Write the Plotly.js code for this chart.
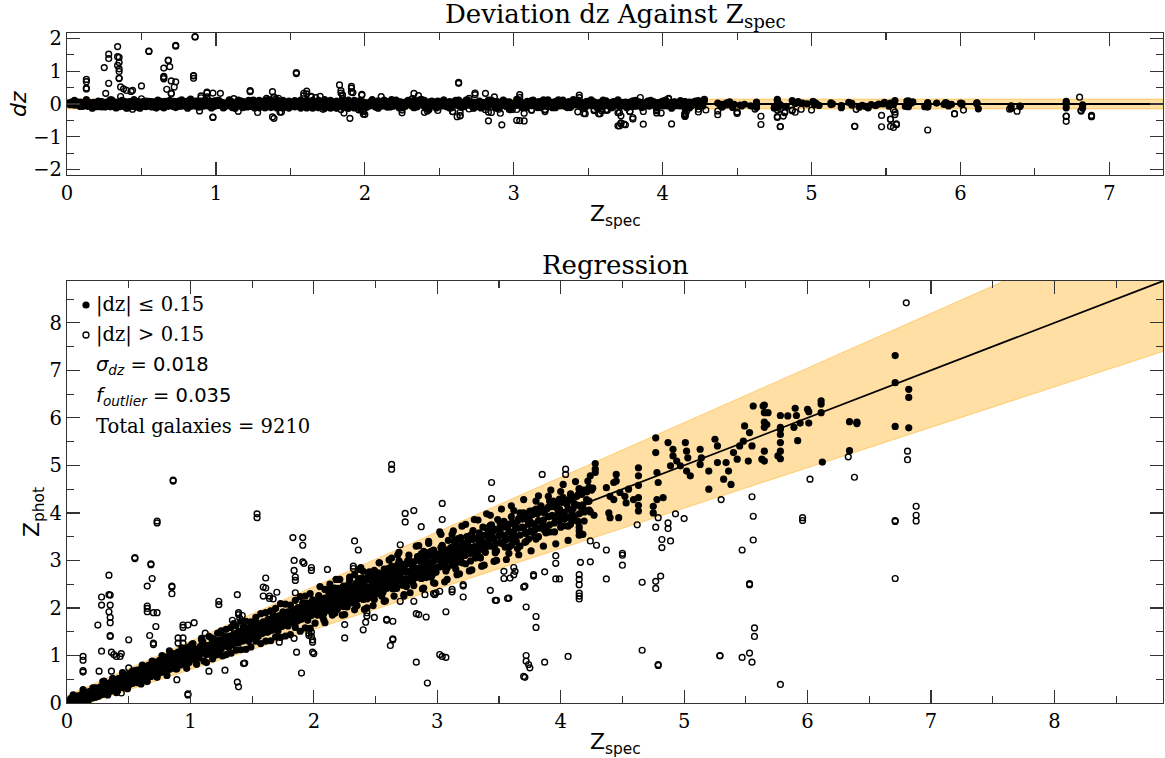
<!DOCTYPE html>
<html>
<head>
<meta charset="utf-8">
<script src="https://cdn.plot.ly/plotly-3.0.1.min.js"></script>
<style>html,body{margin:0;padding:0;background:#fff}#chart{width:1165px;height:758px}</style>
</head>
<body>
<div id="chart"></div>
<script>
// ---------------- DATA ----------------
// inliers, z_spec 0 - 1
const inZsA = [0.01,0.02,0.03,0.04,0.05,0.06,0.07,0.08,0.09,0.10,0.11,0.12,0.13,0.14,0.15,0.16,0.17,0.18,0.19,0.20,0.21,0.22,0.23,0.24,0.25,0.26,0.27,0.28,0.29,0.30,0.31,0.32,0.33,0.34,0.35,0.36,0.37,0.38,0.39,0.40,0.41,0.42,0.43,0.44,0.45,0.46,0.47,0.48,0.49,0.50,0.51,0.52,0.53,0.54,0.55,0.56,0.57,0.58,0.59,0.60,0.61,0.62,0.63,0.64,0.65,0.66,0.67,0.68,0.69,0.70,0.71,0.72,0.73,0.74,0.75,0.76,0.77,0.78,0.79,0.80,0.81,0.82,0.83,0.84,0.85,0.86,0.87,0.88,0.89,0.90,0.91,0.92,0.93,0.94,0.95,0.96,0.97,0.98,0.99,1.00,0.83,0.60,0.40,0.30,0.88,0.72,0.55,0.46,
  0.205,0.225,0.245,0.265,0.285,0.305,0.325,0.345,0.365,0.385,0.405,0.425,0.445,0.465,0.485,0.505,0.525,0.545,0.565,0.585,0.605,0.625,0.645,0.665,0.685,0.705,0.725,0.745,0.765,0.785,0.805,0.825,0.845,0.865,0.885,0.905,0.925,0.945,0.965,0.985];
const inZpA = [0.04,0.00,0.09,0.05,0.01,0.12,0.07,0.03,0.15,0.09,0.04,0.18,0.12,0.06,0.21,0.14,0.08,0.24,0.17,0.10,0.28,0.19,0.12,0.31,0.22,0.15,0.34,0.25,0.18,0.38,0.28,0.21,0.41,0.31,0.24,0.45,0.34,0.27,0.49,0.37,0.30,0.52,0.40,0.33,0.56,0.43,0.35,0.59,0.46,0.38,0.62,0.50,0.41,0.65,0.53,0.44,0.69,0.56,0.47,0.72,0.60,0.50,0.76,0.63,0.53,0.79,0.66,0.56,0.83,0.69,0.59,0.86,0.72,0.62,0.90,0.75,0.65,0.93,0.78,0.68,0.97,0.81,0.71,1.00,0.84,0.74,1.04,0.87,0.77,1.07,0.90,0.80,1.11,0.93,0.83,1.14,0.96,0.86,1.18,0.99,1.10,0.40,0.22,0.46,0.72,0.60,0.68,0.33,
  0.23,0.20,0.28,0.24,0.31,0.27,0.36,0.31,0.40,0.35,0.44,0.39,0.49,0.42,0.53,0.46,0.58,0.50,0.62,0.54,0.66,0.57,0.71,0.61,0.75,0.65,0.79,0.69,0.83,0.72,0.87,0.76,0.92,0.80,0.96,0.84,1.00,0.88,1.05,0.92];
// inliers, z_spec 1 - 2
const inZsB = [1.01,1.02,1.04,1.05,1.06,1.08,1.09,1.10,1.12,1.13,1.14,1.16,1.17,1.19,1.20,1.21,1.23,1.24,1.25,1.27,1.28,1.30,1.31,1.32,1.34,1.35,1.36,1.38,1.39,1.40,1.42,1.43,1.44,1.46,1.47,1.48,1.50,1.51,1.52,1.54,1.55,1.56,1.58,1.59,1.60,1.62,1.63,1.64,1.66,1.67,1.68,1.70,1.71,1.72,1.74,1.75,1.76,1.78,1.79,1.80,1.82,1.83,1.84,1.86,1.87,1.88,1.90,1.91,1.92,1.94,1.95,1.96,1.98,1.99,1.02,1.05,1.09,1.11,1.15,1.18,1.22,1.26,1.29,1.33,1.37,1.41,1.45,1.49,1.53,1.57,1.61,1.65,1.69,1.73,1.77,1.81,1.85,1.89,1.93,1.97,1.35,
  1.01,1.03,1.05,1.07,1.09,1.11,1.13,1.15,1.17,1.19,1.21,1.23,1.25,1.27,1.29,1.31,1.33,1.35,1.37,1.39,1.41,1.43,1.45,1.47,1.49,1.51,1.53,1.55,1.57,1.59,1.61,1.63,1.65,1.67,1.69,1.71,1.73,1.75,1.77,1.79,1.81,1.83,1.85,1.87,1.89,1.91,1.93,1.95,1.97,1.99,
  1.02,1.06,1.10,1.14,1.18,1.22,1.26,1.30,1.34,1.38,1.42,1.46,1.50,1.54,1.58,1.62,1.66,1.70,1.74,1.78,1.82,1.86,1.90,1.94,1.98];
const inZpB = [1.03,0.93,1.12,1.01,0.97,1.19,1.06,1.29,1.08,1.02,1.21,1.15,1.05,1.27,1.18,1.11,1.32,1.22,1.14,1.35,1.25,1.19,1.40,1.29,1.22,1.45,1.33,1.26,1.50,1.37,1.30,1.55,1.41,1.34,1.58,1.46,1.38,1.62,1.50,1.42,1.67,1.54,1.46,1.71,1.58,1.49,1.76,1.62,1.53,1.79,1.66,1.57,1.83,1.70,1.61,1.88,1.74,1.65,1.92,1.78,1.69,1.96,1.82,1.72,2.01,1.86,1.76,2.05,1.90,1.80,2.10,1.94,1.84,2.13,1.25,0.82,1.33,0.88,1.40,0.93,1.47,0.99,1.55,1.05,1.63,1.12,1.72,1.18,1.80,1.25,1.90,1.31,1.99,1.38,2.08,1.44,2.16,1.51,2.25,1.57,1.67,
  1.08,0.97,1.12,1.01,1.16,1.05,1.20,1.09,1.24,1.12,1.29,1.16,1.33,1.20,1.37,1.24,1.41,1.28,1.46,1.32,1.50,1.36,1.54,1.39,1.58,1.43,1.62,1.47,1.67,1.51,1.71,1.55,1.75,1.59,1.79,1.63,1.84,1.66,1.88,1.70,1.92,1.74,1.96,1.78,2.01,1.82,2.05,1.86,2.09,1.90,
  1.03,1.05,1.11,1.13,1.19,1.21,1.27,1.29,1.35,1.37,1.43,1.45,1.51,1.53,1.59,1.61,1.67,1.69,1.75,1.77,1.83,1.85,1.91,1.93,1.99];
// inliers, z_spec 2 - 3
const inZsC = [2.01,2.02,2.04,2.05,2.06,2.07,2.09,2.10,2.11,2.12,2.14,2.15,2.16,2.17,2.19,2.20,2.21,2.22,2.24,2.25,2.26,2.27,2.29,2.30,2.31,2.32,2.34,2.35,2.36,2.37,2.39,2.40,2.41,2.42,2.44,2.45,2.46,2.47,2.49,2.50,2.51,2.52,2.54,2.55,2.56,2.57,2.59,2.60,2.61,2.62,2.64,2.65,2.66,2.67,2.69,2.70,2.71,2.72,2.74,2.75,2.76,2.77,2.79,2.80,2.81,2.82,2.84,2.85,2.86,2.87,2.89,2.90,2.91,2.92,2.94,2.95,2.96,2.97,2.99,2.13,2.23,2.33,2.43,2.53,2.58,2.68,2.73,2.83,2.88,2.93,2.98,2.18,2.48,2.63,2.78,2.38,2.08,
  2.01,2.03,2.05,2.07,2.09,2.11,2.13,2.15,2.17,2.19,2.21,2.23,2.25,2.27,2.29,2.31,2.33,2.35,2.37,2.39,2.41,2.43,2.45,2.47,2.49,2.51,2.53,2.55,2.57,2.59,2.61,2.63,2.65,2.67,2.69,2.71,2.73,2.75,2.77,2.79,2.81,2.83,2.85,2.87,2.89,2.91,2.93,2.95,2.97,2.99,
  2.02,2.06,2.10,2.14,2.18,2.22,2.26,2.30,2.34,2.38,2.42,2.46,2.50,2.54,2.58,2.62,2.66,2.70,2.74,2.78,2.82,2.86,2.90,2.94,2.98,
  2.04,2.08,2.12,2.16,2.20,2.24,2.28,2.32,2.36,2.40,2.44,2.48,2.52,2.56,2.60,2.64,2.68,2.72,2.76,2.80,2.84,2.88,2.92,2.96];
const inZpC = [2.06,1.90,2.26,2.03,2.19,1.82,2.39,2.03,2.20,1.94,2.31,1.85,2.17,2.42,2.05,2.27,2.26,2.10,2.46,2.23,2.39,2.02,2.59,2.23,2.40,2.14,2.51,2.05,2.37,2.62,2.25,2.47,2.46,2.30,2.66,2.43,2.59,2.22,2.79,2.43,2.60,2.34,2.71,2.25,2.57,2.82,2.45,2.67,2.66,2.50,2.86,2.63,2.79,2.42,2.99,2.63,2.80,2.54,2.91,2.45,2.77,3.02,2.65,2.87,2.86,2.70,3.06,2.83,2.99,2.62,3.19,2.83,3.00,2.74,3.11,2.65,2.97,3.22,2.85,2.50,1.85,2.70,2.00,2.95,2.15,3.12,2.28,3.30,2.40,3.40,2.52,2.60,2.05,3.05,2.32,2.85,1.75,
  2.12,1.93,2.16,1.97,2.21,2.01,2.25,2.05,2.29,2.09,2.33,2.12,2.38,2.16,2.42,2.20,2.46,2.24,2.50,2.28,2.55,2.31,2.59,2.35,2.63,2.39,2.67,2.43,2.72,2.46,2.76,2.50,2.80,2.54,2.84,2.58,2.89,2.62,2.93,2.65,2.97,2.69,3.01,2.73,3.06,2.77,3.10,2.81,3.14,2.84,
  2.03,2.05,2.12,2.13,2.19,2.21,2.28,2.29,2.36,2.37,2.44,2.45,2.52,2.53,2.60,2.61,2.68,2.69,2.76,2.77,2.84,2.85,2.92,2.93,3.00,
  2.24,1.88,2.33,1.96,2.41,2.03,2.49,2.10,2.58,2.18,2.66,2.25,2.74,2.33,2.83,2.40,2.91,2.48,2.99,2.55,3.08,2.63,3.16,2.70];
// inliers, z_spec 3 - 4.3
const inZsD = [3.01,3.02,3.04,3.05,3.06,3.07,3.09,3.10,3.11,3.12,3.14,3.15,3.16,3.17,3.19,3.20,3.21,3.22,3.24,3.25,3.26,3.27,3.29,3.30,3.31,3.32,3.34,3.35,3.36,3.37,3.39,3.40,3.41,3.42,3.44,3.45,3.46,3.47,3.49,3.03,3.08,3.13,3.18,3.23,3.28,3.33,3.38,3.43,3.48,3.51,3.52,3.54,3.55,3.57,3.58,3.60,3.61,3.63,3.64,3.66,3.67,3.69,3.70,3.72,3.73,3.75,3.76,3.78,3.79,3.81,3.82,3.84,3.85,3.87,3.88,3.90,3.91,3.93,3.94,3.96,3.97,3.99,4.00,4.02,4.03,4.05,4.06,4.08,4.09,4.11,4.12,4.14,4.15,4.17,4.18,4.20,4.21,4.23,4.24,4.26,4.15,4.15,4.08,3.80,3.72,3.65,3.58,4.00,3.90,3.80,3.62,
  3.01,3.03,3.05,3.07,3.09,3.11,3.13,3.15,3.17,3.19,3.21,3.23,3.25,3.27,3.29,3.31,3.33,3.35,3.37,3.39,3.41,3.43,3.45,3.47,3.49,3.51,3.53,3.55,3.57,3.59,3.61,3.63,3.65,3.67,3.69,3.71,3.73,3.75,3.77,3.79,3.81,3.83,3.85,3.87,3.89,3.91,3.93,3.95,3.97,3.99,4.01,4.03,4.05,4.07,4.09,4.11,4.13,4.15,4.17,4.19,4.21,4.23,4.25,
  3.02,3.06,3.10,3.14,3.18,3.22,3.26,3.30,3.34,3.38,3.42,3.46,3.50,3.54,3.58,3.62,3.66,3.70,3.74,3.78,3.82,3.86,3.90,3.94,3.98,4.02,4.06,4.10,4.14,4.18,4.22];
const inZpD = [3.08,2.86,3.30,3.01,3.20,2.78,3.42,3.04,3.24,2.90,3.38,2.82,3.18,3.46,3.06,3.30,3.28,3.10,3.50,3.24,3.44,2.99,3.63,3.26,3.46,3.15,3.58,3.05,3.41,3.70,3.29,3.53,3.51,3.32,3.75,3.48,3.66,3.21,3.86,3.55,2.60,3.62,2.72,3.76,2.80,3.85,2.90,3.95,3.00,3.58,3.36,3.80,3.50,3.70,3.28,3.92,3.55,3.74,3.40,3.88,3.30,3.70,4.00,3.58,3.85,3.83,3.62,4.05,3.76,3.98,3.50,4.15,3.80,4.00,3.66,4.12,3.60,3.95,4.25,3.85,4.10,4.08,3.90,4.32,3.98,4.18,3.72,4.40,3.98,4.20,3.85,4.38,3.70,4.10,4.48,4.05,4.28,4.25,4.02,4.52,3.53,3.62,3.76,3.45,3.40,3.25,3.15,4.45,4.35,4.25,4.05,
  3.14,2.93,3.18,2.97,3.23,3.00,3.27,3.04,3.31,3.08,3.36,3.12,3.40,3.15,3.44,3.19,3.48,3.23,3.53,3.27,3.57,3.30,3.61,3.34,3.66,3.38,3.70,3.42,3.74,3.45,3.79,3.49,3.83,3.53,3.87,3.57,3.92,3.60,3.96,3.64,4.00,3.68,4.05,3.72,4.09,3.75,4.13,3.79,4.18,3.83,4.22,3.87,4.26,3.90,4.31,3.94,4.35,3.98,4.39,4.02,4.44,4.06,4.48,
  3.03,3.05,3.12,3.13,3.20,3.21,3.28,3.29,3.36,3.37,3.44,3.45,3.52,3.53,3.60,3.61,3.68,3.69,3.76,3.77,3.84,3.85,3.92,3.93,4.00,4.01,4.08,4.09,4.16,4.17,4.24];
// inliers, z_spec 3 - 4.3, wider scatter toward the band edges
const inZsF = [3.02,3.06,3.12,3.16,3.20,3.26,3.30,3.36,3.40,3.46,3.52,3.56,3.60,3.66,3.70,3.76,3.82,3.86,3.92,3.96,4.02,4.06,4.12,4.18,4.24,
  3.04,3.08,3.14,3.20,3.28,3.34,3.40,3.48,3.54,3.60,3.68,3.74,3.80,3.88,3.94,4.00,4.08,4.14,4.20];
const inZpF = [3.60,2.55,3.55,2.70,3.72,2.78,3.86,2.88,3.98,2.98,4.08,3.02,4.15,3.12,4.28,3.20,4.36,3.30,4.48,3.35,4.60,3.42,4.66,3.55,4.78,
  3.32,2.84,3.42,2.95,3.55,3.08,3.68,3.20,3.82,3.32,3.96,3.45,4.08,3.58,4.22,3.70,4.36,3.82,4.48];
// inliers, z_spec 0 - 3, outer part of the dense band
const inZsG = [0.05,0.09,0.13,0.17,0.21,0.25,0.29,0.33,0.37,0.41,0.45,0.49,0.53,0.57,0.61,0.65,0.69,0.73,0.77,0.81,0.85,0.89,0.93,0.97,1.01,1.05,1.09,1.13,1.17,1.21,1.25,1.29,1.33,1.37,1.41,1.45,1.49,1.53,1.57,1.61,1.65,1.69,1.73,1.77,1.81,1.85,1.89,1.93,1.97,2.01,2.05,2.09,2.13,2.17,2.21,2.25,2.29,2.33,2.37,2.41,2.45,2.49,2.53,2.57,2.61,2.65,2.69,2.73,2.77,2.81,2.85,2.89,2.93,2.97];
const inZpG = [0.17,0.01,0.28,0.02,0.32,0.14,0.45,0.17,0.52,0.25,0.64,0.30,0.67,0.43,0.80,0.45,0.88,0.54,1.00,0.58,1.02,0.72,1.16,0.73,1.23,0.82,1.36,0.85,1.37,1.01,1.52,1.02,1.59,1.11,1.72,1.13,1.71,1.30,1.88,1.30,1.94,1.39,2.09,1.41,2.06,1.59,2.24,1.58,2.30,1.68,2.45,1.69,2.41,1.89,2.60,1.86,2.65,1.96,2.81,1.97,2.76,2.18,2.95,2.14,3.01,2.25,3.17,2.25,3.11,2.47,3.31,2.42,3.36,2.53];
// inliers, z_spec 0 - 4.3, middle part of the dense band
const inZsH = [0.07,0.11,0.15,0.19,0.23,0.27,0.31,0.35,0.39,0.43,0.47,0.51,0.55,0.59,0.63,0.67,0.71,0.75,0.79,0.83,0.87,0.91,0.95,0.99,1.03,1.07,1.11,1.15,1.19,1.23,1.27,1.31,1.35,1.39,1.43,1.47,1.51,1.55,1.59,1.63,1.67,1.71,1.75,1.79,1.83,1.87,1.91,1.95,1.99,2.03,2.07,2.11,2.15,2.19,2.23,2.27,2.31,2.35,2.39,2.43,2.47,2.51,2.55,2.59,2.63,2.67,2.71,2.75,2.79,2.83,2.87,2.91,2.95,2.99,
  3.03,3.07,3.11,3.15,3.19,3.23,3.27,3.31,3.35,3.39,3.43,3.47,3.51,3.55,3.59,3.63,3.67,3.71,3.75,3.79,3.83,3.87,3.91,3.95,3.99,4.03,4.07,4.11,4.15,4.19,4.23,4.27];
const inZpH = [0.13,0.04,0.20,0.13,0.32,0.18,0.39,0.27,0.45,0.36,0.57,0.40,0.64,0.49,0.70,0.59,0.83,0.63,0.90,0.72,0.95,0.81,1.09,0.85,1.15,0.95,1.19,1.04,1.34,1.07,1.41,1.17,1.44,1.27,1.60,1.30,1.66,1.40,1.69,1.50,1.86,1.52,1.92,1.62,1.94,1.73,2.11,1.74,2.17,1.85,2.19,1.95,2.37,1.97,2.42,2.07,2.44,2.18,2.63,2.19,2.68,2.30,2.69,2.41,2.88,2.41,2.93,2.53,2.94,2.64,3.14,2.64,3.19,2.75,
  3.27,2.83,3.27,2.94,3.48,2.93,3.53,3.05,3.52,3.17,3.74,3.16,3.78,3.28,3.77,3.40,4.00,3.38,4.04,3.50,4.02,3.63,4.25,3.60,4.29,3.73,4.27,3.85,4.51,3.83,4.54,3.95];
// inliers, z_spec above 4.3
const inZsE = [4.28,4.28,4.28,4.15,4.15,4.22,4.45,4.45,4.63,4.63,4.63,4.63,4.63,4.63,4.77,4.77,4.78,4.79,4.78,4.75,4.75,4.83,4.87,4.91,4.91,4.94,4.89,4.97,5.01,5.02,5.03,5.02,5.05,5.13,5.14,5.13,5.25,5.27,5.20,5.27,5.32,5.20,5.34,5.36,5.38,5.40,5.43,5.45,5.48,5.49,5.53,5.55,5.56,5.52,5.64,5.67,5.68,5.63,5.76,5.78,4.37,4.40,4.43,4.48,4.52,4.55,4.39,4.40,4.47,4.53,4.43,4.59,5.90,5.91,5.94,5.89,5.92,5.84,5.78,5.78,5.78,5.78,5.78,5.78,5.65,5.65,5.65,5.65,5.65,5.65,6.00,6.01,6.01,6.11,6.11,6.11,6.12,6.34,6.40,6.40,6.34,6.71,6.71,6.82,6.82,6.71,6.82];
const inZpE = [5.04,4.92,4.85,4.50,4.41,4.67,4.81,4.67,4.95,4.78,4.58,4.32,4.16,4.04,5.58,5.27,4.85,4.64,4.28,4.14,4.00,4.32,5.48,5.34,5.20,5.09,4.99,4.99,5.48,5.30,5.16,4.88,4.78,5.34,5.16,5.02,5.55,5.41,4.88,5.06,4.71,4.50,5.06,4.88,4.60,5.27,5.13,5.41,5.51,5.83,5.69,5.41,6.25,5.09,6.25,5.86,6.11,5.13,5.20,5.76,4.53,4.35,4.28,4.43,4.35,4.50,4.00,3.90,3.90,4.21,4.64,4.28,6.20,6.05,5.89,5.80,5.52,6.04,6.05,5.80,5.65,5.48,5.30,5.14,6.27,6.11,5.91,5.80,5.30,5.09,6.18,6.13,5.89,6.36,6.29,6.11,5.07,5.92,5.91,5.88,5.31,7.31,6.74,6.60,6.43,5.82,5.79];
// catastrophic outliers (|dz| > 0.15)
const outZs = [0.13,0.13,0.13,0.13,0.25,0.26,0.28,0.28,0.28,0.34,0.34,0.35,0.35,0.34,0.35,0.35,0.35,0.35,0.36,0.36,0.38,0.40,0.44,0.43,0.50,0.50,0.44,0.55,0.55,0.68,0.68,0.69,0.65,0.65,0.65,0.65,0.70,0.72,0.70,0.70,0.73,0.67,0.73,0.73,0.85,0.85,0.85,0.86,0.86,0.90,0.94,0.90,0.94,0.94,0.94,0.98,1.03,0.89,0.98,0.98,1.12,1.15,1.23,1.23,1.28,1.38,1.38,1.39,1.43,1.44,1.34,1.39,1.40,1.39,1.42,1.54,1.54,1.59,1.59,1.61,1.61,1.64,1.64,1.70,1.67,1.72,1.83,1.84,1.84,1.85,1.85,1.85,1.84,1.86,1.90,1.91,1.91,1.91,1.92,1.98,1.98,1.98,1.98,1.99,1.99,1.99,2.00,1.96,1.96,2.11,2.25,2.25,2.33,2.36,2.40,2.32,2.32,2.43,2.43,2.42,2.40,2.49,2.59,2.64,2.62,2.64,2.64,2.59,2.63,2.63,2.70,2.70,2.74,2.74,2.81,2.87,2.81,2.83,2.85,2.91,2.83,2.92,2.90,2.97,2.99,3.02,2.98,3.04,3.04,3.07,3.02,3.04,3.07,3.12,3.12,3.21,3.21,3.21,3.43,3.47,3.44,3.44,3.48,3.54,3.54,3.59,3.62,3.63,3.62,3.57,3.58,3.70,3.72,3.71,3.78,3.78,3.80,3.80,3.72,3.72,3.74,3.75,3.70,3.71,3.85,3.87,3.87,3.96,3.96,3.99,3.96,4.04,4.04,4.06,4.15,4.15,4.15,4.15,4.15,4.15,4.16,4.24,4.24,4.29,4.37,4.37,4.50,4.50,4.50,4.62,4.66,4.66,4.77,4.77,4.81,4.79,4.77,4.87,4.87,4.82,4.82,4.89,4.79,4.79,4.93,5.00,5.29,5.29,5.30,5.47,5.47,5.53,5.55,5.57,5.57,5.53,5.53,5.56,5.56,5.55,5.78,5.96,5.96,6.02,6.33,6.38,6.71,6.71,6.71,6.81,6.81,6.80,6.88,6.88,6.88];
const outZp = [0.98,0.90,0.68,0.65,1.64,0.67,2.23,2.06,1.09,2.69,2.28,2.27,2.06,1.92,1.80,1.69,1.40,1.42,0.67,1.07,1.02,0.98,1.04,0.98,1.33,0.74,0.21,3.04,3.06,2.91,2.93,2.62,2.46,2.04,1.99,1.92,1.90,1.61,1.26,1.23,1.90,1.42,3.83,3.79,2.46,2.44,2.30,4.69,4.67,1.37,1.37,1.26,1.26,1.64,1.59,1.64,1.69,0.49,0.17,0.19,1.47,0.67,2.14,2.07,0.69,2.28,0.44,0.34,0.83,0.84,1.74,1.86,1.78,1.90,1.84,3.98,3.90,2.44,2.25,2.63,2.42,2.25,2.20,2.33,2.19,1.28,3.48,3.00,2.79,2.65,2.58,2.32,1.36,1.07,0.63,3.48,3.32,2.97,2.94,2.85,2.79,1.49,1.40,1.33,1.28,1.07,1.04,1.47,1.42,2.81,1.65,1.37,3.41,3.22,2.77,2.88,2.83,1.90,1.83,1.70,1.54,1.80,1.74,1.72,1.21,1.33,1.35,1.76,5.02,4.92,3.33,2.14,3.99,3.81,4.05,3.71,2.14,1.88,1.86,1.81,0.86,0.42,2.28,2.30,2.32,2.35,2.28,4.20,3.86,1.92,1.02,0.98,0.96,2.34,2.39,2.49,2.23,2.46,2.37,2.16,4.64,4.30,2.16,2.77,2.62,2.63,2.70,2.77,2.85,2.20,2.21,2.44,2.02,2.46,2.70,2.67,1.82,1.59,1.00,0.88,0.81,0.74,0.56,0.54,4.81,2.76,0.86,3.10,2.94,2.61,2.61,4.92,4.81,0.98,2.70,2.60,2.49,2.31,2.25,2.19,2.96,3.41,2.97,3.32,3.22,2.61,3.15,3.11,2.90,3.75,2.54,1.11,2.56,2.41,2.67,3.90,3.70,3.79,3.67,3.44,3.27,3.41,0.81,0.79,3.98,3.88,1.00,0.99,4.28,3.22,0.96,1.05,0.86,1.58,1.40,2.49,2.51,3.43,3.93,4.34,0.39,3.90,3.84,4.71,5.18,4.75,3.84,3.82,2.62,5.30,5.12,8.42,4.14,3.95,3.83];

// annotation texts
const statLines = ['|dz| \u2264 0.15', '|dz| > 0.15', '<i>\u03c3<sub>dz</sub></i> = 0.018', '<i>f<sub>outlier</sub></i> = 0.035', 'Total galaxies = 9210'];
const THR = 0.15;            // outlier threshold on |dz|
const TOP_XMAX = 7.36, TOP_YLIM = 2.17, BOT_MAX = 8.88;

// ---------------- build ----------------
const zs = [].concat(inZsA, inZsB, inZsC, inZsD, inZsF, inZsG, inZsH, inZsE, outZs);
const zp = [].concat(inZpA, inZpB, inZpC, inZpD, inZpF, inZpG, inZpH, inZpE, outZp);
const gIn = {zs: [], zp: [], dz: []}, gOut = {zs: [], zp: [], dz: []};
for (let i = 0; i < zs.length; i++) {
  const d = (zp[i] - zs[i]) / (1 + zs[i]);
  const g = Math.abs(d) <= THR ? gIn : gOut;
  g.zs.push(zs[i]); g.zp.push(zp[i]); g.dz.push(d);
}

const ORANGE_FILL = 'rgba(255,165,0,0.36)';
const ORANGE_LINE = 'rgba(255,165,0,0.55)';
const filledMk = {symbol: 'circle', size: 7.2, color: '#000', line: {width: 0}};
const openMk = {symbol: 'circle-open', size: 5.8, color: '#000', line: {width: 1.4, color: '#000'}};

const traces = [
  {x: [0, TOP_XMAX, TOP_XMAX, 0, 0], y: [-THR, -THR, THR, THR, -THR], xaxis: 'x', yaxis: 'y',
   mode: 'lines', fill: 'toself', fillcolor: ORANGE_FILL, line: {color: ORANGE_LINE, width: 0.8}, hoverinfo: 'skip'},
  {x: [0, TOP_XMAX], y: [0, 0], xaxis: 'x', yaxis: 'y', mode: 'lines', line: {color: '#000', width: 1.8}, hoverinfo: 'skip'},
  {x: gIn.zs, y: gIn.dz, xaxis: 'x', yaxis: 'y', mode: 'markers', marker: filledMk},
  {x: gOut.zs, y: gOut.dz, xaxis: 'x', yaxis: 'y', mode: 'markers', marker: openMk},
  {x: [0, BOT_MAX, BOT_MAX, 0, 0],
   y: [-THR, BOT_MAX - THR * (1 + BOT_MAX), BOT_MAX + THR * (1 + BOT_MAX), THR, -THR],
   xaxis: 'x2', yaxis: 'y2', mode: 'lines', fill: 'toself', fillcolor: ORANGE_FILL,
   line: {color: ORANGE_LINE, width: 0.8}, hoverinfo: 'skip'},
  {x: [0, BOT_MAX], y: [0, BOT_MAX], xaxis: 'x2', yaxis: 'y2', mode: 'lines', line: {color: '#000', width: 1.8}, hoverinfo: 'skip'},
  {x: gIn.zs, y: gIn.zp, xaxis: 'x2', yaxis: 'y2', mode: 'markers', marker: filledMk},
  {x: gOut.zs, y: gOut.zp, xaxis: 'x2', yaxis: 'y2', mode: 'markers', marker: openMk}
];

const SERIF = "'DejaVu Serif', 'Liberation Serif', serif";
const SANS = "'DejaVu Sans', sans-serif";
function ax(extra) {
  return Object.assign({
    showgrid: false, zeroline: false, showline: true, linecolor: '#333', linewidth: 1.2,
    mirror: 'ticks', ticks: 'inside', ticklen: 13, tickwidth: 1.2, tickcolor: '#333',
    dtick: 1, tickfont: {family: SERIF, size: 19.5, color: '#000'},
    minor: {ticks: 'inside', ticklen: 7, tickwidth: 1.1, tickcolor: '#333', dtick: 0.5, showgrid: false}
  }, extra);
}
const H = 670, T = 33;
const py = p => (703 - p) / H;            // pixel row -> paper y
const px = p => (p - 67) / 1096;           // pixel col -> paper x

const annotations = [
  {text: 'Deviation dz Against Z<sub>spec</sub>', x: 0.5, y: py(15), xref: 'paper', yref: 'paper', showarrow: false, font: {family: SERIF, size: 26, color: '#000'}, yanchor: 'middle'},
  {text: 'Regression', x: 0.5, y: py(265), xref: 'paper', yref: 'paper', showarrow: false, font: {family: SERIF, size: 26, color: '#000'}, yanchor: 'middle'},
  {text: 'Z<sub>spec</sub>', x: 0.5, y: py(215), xref: 'paper', yref: 'paper', showarrow: false, font: {family: SANS, size: 22, color: '#000'}, yanchor: 'middle'},
  {text: 'Z<sub>spec</sub>', x: 0.5, y: py(743), xref: 'paper', yref: 'paper', showarrow: false, font: {family: SANS, size: 22, color: '#000'}, yanchor: 'middle'},
  {text: '<i>dz</i>', x: px(18), y: py(104), xref: 'paper', yref: 'paper', showarrow: false, textangle: -90, font: {family: SANS, size: 22, color: '#000'}, xanchor: 'center', yanchor: 'middle'},
  {text: 'Z<sub>phot</sub>', x: px(33), y: py(512), xref: 'paper', yref: 'paper', showarrow: false, textangle: -90, font: {family: SANS, size: 22, color: '#000'}, xanchor: 'center', yanchor: 'middle'}
];
const rows = [305, 335, 365, 396, 426];
statLines.forEach((t, i) => {
  annotations.push({text: t, x: px(94), y: py(rows[i]), xref: 'paper', yref: 'paper', showarrow: false,
    xanchor: 'left', yanchor: 'middle', font: {family: (i === 2 || i === 3) ? SANS : SERIF, size: 19.5, color: '#000'}});
});
const shapes = [
  {type: 'circle', xref: 'paper', yref: 'paper', xsizemode: 'pixel', ysizemode: 'pixel', xanchor: px(86), yanchor: py(rows[0]),
   x0: -3.6, x1: 3.6, y0: -3.6, y1: 3.6, fillcolor: '#000', line: {color: '#000', width: 0}},
  {type: 'circle', xref: 'paper', yref: 'paper', xsizemode: 'pixel', ysizemode: 'pixel', xanchor: px(86), yanchor: py(rows[1]),
   x0: -3.0, x1: 3.0, y0: -3.0, y1: 3.0, fillcolor: 'rgba(0,0,0,0)', line: {color: '#000', width: 1.3}}
];

const layout = {
  width: 1165, height: 758, margin: {l: 67, r: 2, t: T, b: 55},
  paper_bgcolor: '#fff', plot_bgcolor: '#fff', showlegend: false,
  font: {family: SERIF},
  xaxis: ax({domain: [0, 1], anchor: 'y', range: [0, TOP_XMAX]}),
  yaxis: ax({domain: [py(175), 1], anchor: 'x', range: [-TOP_YLIM, TOP_YLIM]}),
  xaxis2: ax({domain: [0, 1], anchor: 'y2', range: [0, BOT_MAX]}),
  yaxis2: ax({domain: [0, py(281)], anchor: 'x2', range: [0, BOT_MAX]}),
  annotations: annotations, shapes: shapes
};
Plotly.newPlot('chart', traces, layout, {staticPlot: true, displayModeBar: false});
</script>
</body>
</html>
